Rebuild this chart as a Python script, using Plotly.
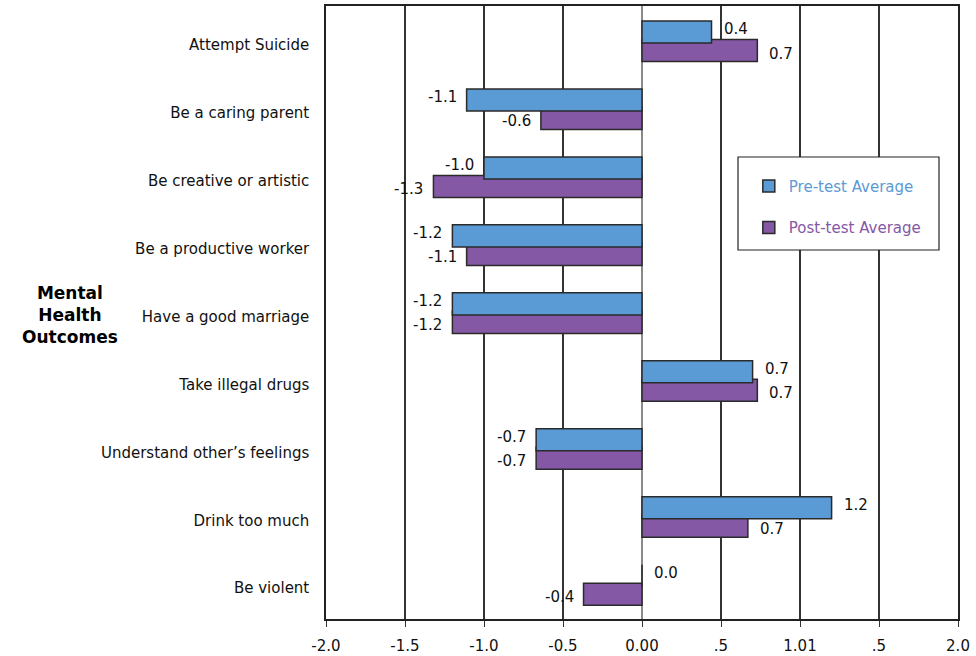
import plotly.graph_objects as go

# Survey items (top to bottom)
categories = [
    "Attempt Suicide",
    "Be a caring parent",
    "Be creative or artistic",
    "Be a productive worker",
    "Have a good marriage",
    "Take illegal drugs",
    "Understand other’s feelings",
    "Drink too much",
    "Be violent",
]
pre_test = [0.44, -1.11, -1.0, -1.2, -1.2, 0.7, -0.67, 1.2, 0.0]
post_test = [0.73, -0.64, -1.32, -1.11, -1.2, 0.73, -0.67, 0.67, -0.37]

x_ticks = [-2.0, -1.5, -1.0, -0.5, 0.0, 0.5, 1.0, 1.5, 2.0]
x_tick_text = ["-2.0", "-1.5", "-1.0", "-0.5", "0.00", ".5", "1.01", ".5", "2.0"]

PRE_COLOR = "#5b9bd5"
POST_COLOR = "#8558a6"
FONT = "DejaVu Sans"
FS = 15

BAR_W = 0.325
PRE_CENTER = -0.184
POST_CENTER = 0.088

idx = list(range(len(categories)))

fig = go.Figure()

# post drawn first so the pre-test bar sits on top where they touch
fig.add_trace(go.Bar(
    y=categories, x=post_test, orientation="h",
    name=f'<span style="color:{POST_COLOR}">Post-test Average</span>',
    marker=dict(color=POST_COLOR, line=dict(color="#2a2a2a", width=1.5)),
    width=BAR_W, offset=POST_CENTER - BAR_W / 2,
    legendgroup="post", legendrank=2, hoverinfo="x+y",
))
fig.add_trace(go.Bar(
    y=categories, x=pre_test, orientation="h",
    name=f'<span style="color:{PRE_COLOR}">Pre-test Average</span>',
    marker=dict(color=PRE_COLOR, line=dict(color="#2a2a2a", width=1.5)),
    width=BAR_W, offset=PRE_CENTER - BAR_W / 2,
    legendgroup="pre", legendrank=1, hoverinfo="x+y",
))

annotations = []
for series, center, yshift in ((pre_test, PRE_CENTER, 3), (post_test, POST_CENTER, -3)):
    for i, v in zip(idx, series):
        annotations.append(dict(
            x=v, y=i + center, xref="x", yref="y",
            text=f"{v:.1f}", showarrow=False,
            xanchor="left" if v >= 0 else "right",
            xshift=10 if v >= 0 else -8, yshift=yshift,
            font=dict(family=FONT, size=FS, color="#111111"),
        ))

annotations.append(dict(
    x=(70 - 326) / 632, y=(619 - 315) / 613, xref="paper", yref="paper",
    text="<b>Mental<br>Health<br>Outcomes</b>", showarrow=False,
    xanchor="center", yanchor="middle", align="center",
    font=dict(family=FONT, size=17, color="#000000"),
))

fig.update_layout(
    width=976, height=656,
    margin=dict(l=326, r=18, t=6, b=37, autoexpand=False),
    paper_bgcolor="white", plot_bgcolor="white",
    barmode="overlay",
    font=dict(family=FONT, size=FS, color="#111111"),
    showlegend=True,
    legend=dict(
        x=0.669, y=0.733, xanchor="left", yanchor="top",
        bgcolor="rgba(0,0,0,0)", borderwidth=0,
        traceorder="grouped", tracegroupgap=19,
        font=dict(family=FONT, size=FS),
    ),
    shapes=[dict(
        type="rect", xref="paper", yref="paper",
        x0=(738 - 326) / 632, x1=(939 - 326) / 632,
        y0=(619 - 250) / 613, y1=(619 - 157) / 613,
        fillcolor="white", line=dict(color="#222222", width=1.2),
        layer="above",
    )],
    annotations=annotations,
    xaxis=dict(
        range=[-2, 2], tickvals=x_ticks, ticktext=x_tick_text,
        automargin=False,
        showgrid=True, gridcolor="#333333", gridwidth=1.5,
        zeroline=True, zerolinecolor="#8a8a8a", zerolinewidth=1.5,
        showline=True, mirror=True, linecolor="#222222", linewidth=1.5,
        ticks="outside", ticklen=6, tickcolor="#333333",
        ticklabelstandoff=6,
        tickfont=dict(family=FONT, size=FS, color="#111111"),
    ),
    yaxis=dict(
        type="category", categoryorder="array", categoryarray=categories,
        range=[8.453, -0.567], automargin=False,
        showgrid=False, zeroline=False,
        showline=True, mirror=True, linecolor="#222222", linewidth=1.5,
        ticks="", ticklabelstandoff=12,
        tickfont=dict(family=FONT, size=FS, color="#111111"),
    ),
)

fig.write_html("out.html")
